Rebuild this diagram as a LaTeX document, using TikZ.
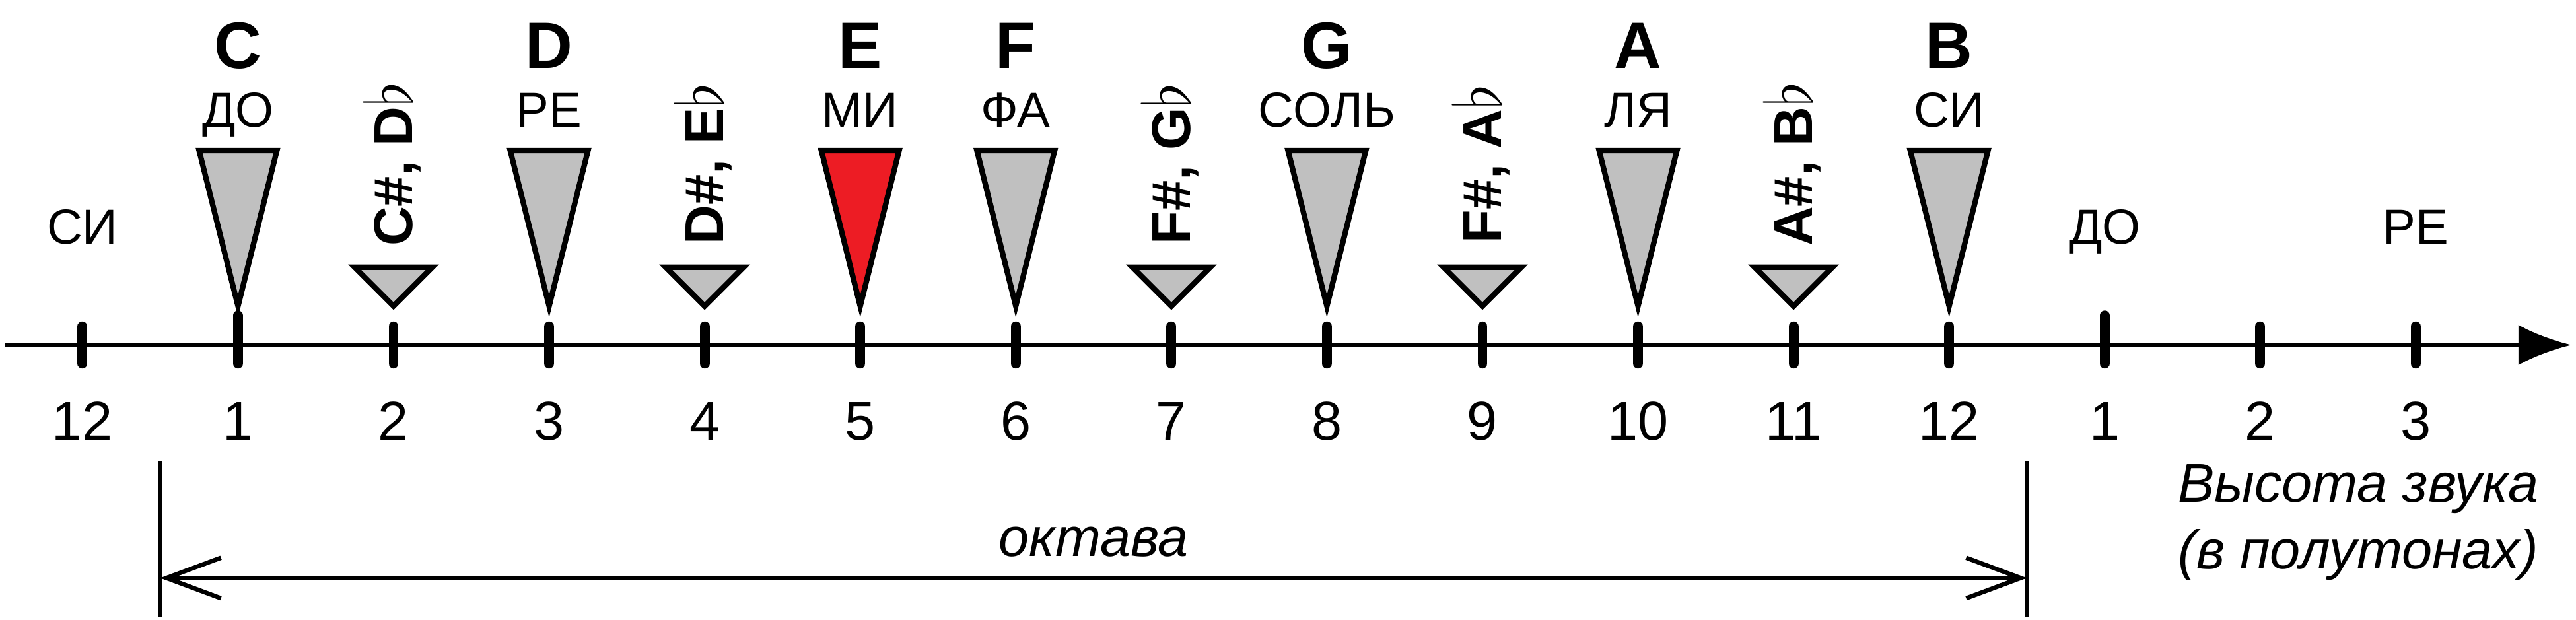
\documentclass[tikz,border=0pt]{standalone}
\usepackage{fontspec}
\setmainfont{Liberation Sans}
\usepackage{tikz}
\usetikzlibrary{arrows.meta, positioning}
\definecolor{keygray}{RGB}{192,192,192}
\definecolor{keyred}{RGB}{237,28,36}
\newcommand{\flt}{{\fontsize{11.5}{12}\selectfont$\flat$}}
\tikzset{
  axisline/.style={line width=0.8pt, -{Latex[length=3.4mm, width=2.6mm]}},
  tickmark/.style={line width=1.8pt, line cap=round},
  notetri/.style={draw=black, fill=keygray, line width=1pt, line join=miter},
  letterlbl/.style={anchor=base, inner sep=0pt, font=\fontsize{12}{14}\selectfont\bfseries},
  namelbl/.style={anchor=base, inner sep=0pt, font=\fontsize{9}{11}\selectfont},
  sharplbl/.style={anchor=base, rotate=90, inner sep=0pt, font=\fontsize{10}{12}\selectfont\bfseries},
  numlbl/.style={anchor=base, inner sep=0pt, font=\fontsize{10}{12}\selectfont},
  italbl/.style={anchor=base, inner sep=0pt, font=\fontsize{10}{12}\selectfont\itshape},
  octbar/.style={line width=0.8pt},
  octarrow/.style={line width=0.8pt, {Straight Barb[length=3.5mm, width=2.6mm]}-{Straight Barb[length=3.5mm, width=2.6mm]}}
}

\begin{document}
\begin{tikzpicture}
  \useasboundingbox (-0.53,-1.768) rectangle (16.03,2.218);

  % Axis
  \coordinate (start) at (-0.5,0);
  \coordinate (end) at (16.0,0);
  \draw[axisline] (start) -- (end);

  % Ticks
  \foreach \k in {0,2,3,...,12,14,15}
    \draw[tickmark] (\k,-0.12) -- (\k,0.12);
  \foreach \k in {1,13}
    \draw[tickmark] (\k,-0.12) -- (\k,0.19);

  % Semitones
  \foreach \k/\n in {0/12,1/1,2/2,3/3,4/4,5/5,6/6,7/7,8/8,9/9,10/10,11/11,12/12,13/1,14/2,15/3}
    \node[numlbl] (n\k) at (\k,-0.61) {\n};

  % White keys
  \foreach \k in {1,3,6,8,10,12}
    \draw[notetri] (\k,0.25) -- (\k-0.25,1.25) -- (\k+0.25,1.25) -- cycle;
  \draw[notetri, fill=keyred] (5,0.25) -- (4.75,1.25) -- (5.25,1.25) -- cycle;

  % Black keys
  \foreach \k in {2,4,7,9,11}
    \draw[notetri] (\k,0.25) -- (\k-0.25,0.5) -- (\k+0.25,0.5) -- cycle;

  % Letter names
  \node[letterlbl] (c) at (1,1.78) {C};
  \node[letterlbl] (d) at (3,1.78) {D};
  \node[letterlbl] (e) at (5,1.78) {E};
  \node[letterlbl] (f) at (6,1.78) {F};
  \node[letterlbl] (g) at (8,1.78) {G};
  \node[letterlbl] (a) at (10,1.78) {A};
  \node[letterlbl] (b) at (12,1.78) {B};

  % Solfege names
  \node[namelbl] (do) at (1,1.40) {ДО};
  \node[namelbl] (re) at (3,1.40) {РЕ};
  \node[namelbl] (mi) at (5,1.40) {МИ};
  \node[namelbl] (fa) at (6,1.40) {ФА};
  \node[namelbl] (sol) at (8,1.40) {СОЛЬ};
  \node[namelbl] (la) at (10,1.40) {ЛЯ};
  \node[namelbl] (si) at (12,1.40) {СИ};

  % Sharps and flats
  \node[sharplbl] (cis) at (2.12,1.165) {C\#, D\flt};
  \node[sharplbl] (dis) at (4.12,1.165) {D\#, E\flt};
  \node[sharplbl] (fis) at (7.12,1.165) {F\#, G\flt};
  \node[sharplbl] (gis) at (9.12,1.165) {F\#, A\flt};
  \node[sharplbl] (ais) at (11.12,1.165) {A\#, B\flt};

  % Neighbouring octaves
  \node[namelbl] (si0) at (0,0.65) {СИ};
  \node[namelbl] (do2) at (13,0.65) {ДО};
  \node[namelbl] (re2) at (15,0.65) {РЕ};

  % Octave
  \coordinate (octl) at (0.5,-0.743);
  \coordinate (octr) at (12.5,-0.743);
  \coordinate (octlb) at (0.5,-1.75);
  \coordinate (octrb) at (12.5,-1.75);
  \draw[octbar] (octl) -- (octlb);
  \draw[octbar] (octr) -- (octrb);
  \coordinate (al) at (0.5,-1.498);
  \coordinate (ar) at (12.5,-1.498);
  \draw[octarrow] (al) -- (ar);
  \node[italbl] (oct) at (6.5,-1.358) {октава};

  % Axis caption
  \node[italbl] (pitch) at (14.63,-1.01) {Высота звука};
  \node[italbl] (semis) at (14.63,-1.44) {(в полутонах)};
\end{tikzpicture}
\end{document}
